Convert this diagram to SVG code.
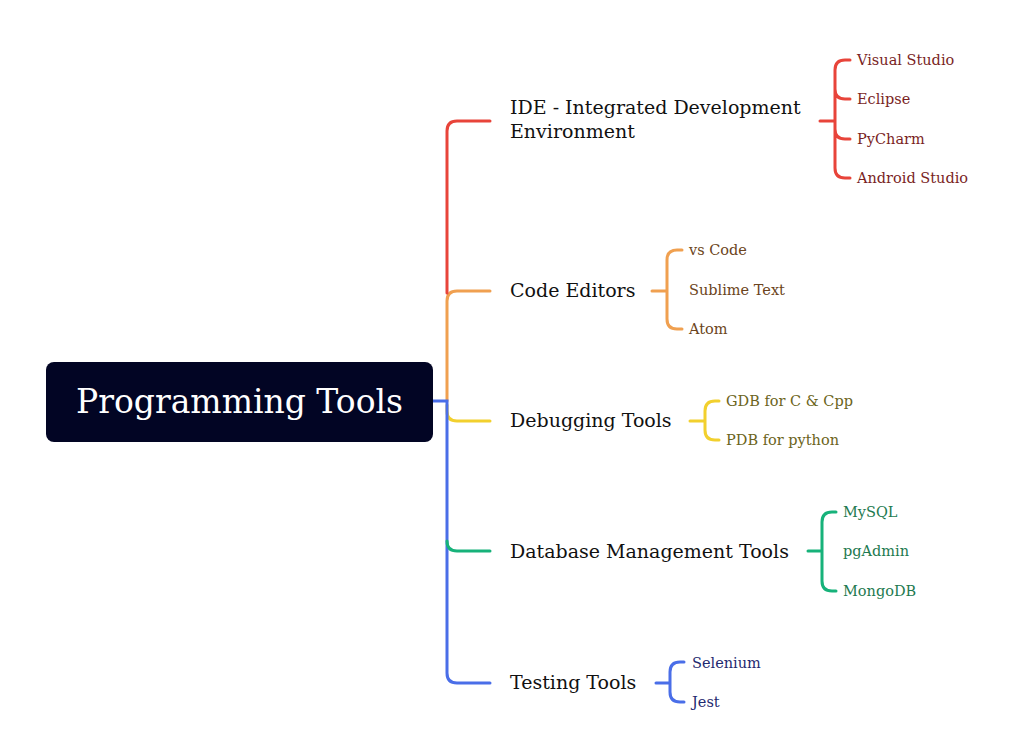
<svg xmlns="http://www.w3.org/2000/svg" width="1024" height="751" viewBox="0 0 1024 751">
<style>
.l{fill:none;stroke-width:3;stroke-linecap:round}
.m{font-family:"DejaVu Serif","Noto Serif",serif;font-size:19px;fill:#111}
.s{font-family:"DejaVu Serif","Noto Serif",serif;font-size:14.5px}
</style>
<rect width="1024" height="751" fill="#fff"/>
<g id="connectors">
<path class="l" stroke="#f0a050" d="M447,401 V301 Q447,291 457,291 H490"/>
<path class="l" stroke="#e8443a" d="M447,293 V131 Q447,121 457,121 H490"/>
<path class="l" stroke="#f2d02e" d="M447,405 V411 Q447,421 457,421 H490"/>
<path class="l" stroke="#4a6ee8" d="M433,401 H447 V673 Q447,683 457,683 H490"/>
<path class="l" stroke="#17b27a" d="M447,541 Q447,551 457,551 H490"/>
<path class="l" stroke="#e8443a" d="M820,121 H835 M850,60 H845 Q835,60 835,70 V168 Q835,178 845,178 H850 M835,89 Q835,99 845,99 H850 M835,129 Q835,139 845,139 H850"/>
<path class="l" stroke="#f0a050" d="M652,291 H667 M682,250 H677 Q667,250 667,260 V319 Q667,329 677,329 H682"/>
<path class="l" stroke="#f2d02e" d="M690,421 H705 M719,401 H715 Q705,401 705,411 V430 Q705,440 715,440 H719"/>
<path class="l" stroke="#17b27a" d="M808,551 H822 M836,512 H832 Q822,512 822,522 V581 Q822,591 832,591 H836"/>
<path class="l" stroke="#4a6ee8" d="M656,683 H670 M684,662 H680 Q670,662 670,672 V692 Q670,702 680,702 H684"/>
</g>
<g id="root"><rect x="46" y="362" width="387" height="80" rx="8" fill="#020524"/>
<text x="239.5" y="413" text-anchor="middle" font-family="'DejaVu Serif','Noto Serif',serif" font-size="33" fill="#fff">Programming Tools</text></g>
<g id="ide"><text class="m" x="510" y="114">IDE - Integrated Development</text><text class="m" x="510" y="138">Environment</text></g>
<g id="editors"><text class="m" x="510" y="297">Code Editors</text></g>
<g id="debug"><text class="m" x="510" y="427">Debugging Tools</text></g>
<g id="db"><text class="m" x="510" y="558">Database Management Tools</text></g>
<g id="testing"><text class="m" x="510" y="689">Testing Tools</text></g>
<g id="ide-leaves" fill="#7a1f1f"><text class="s" x="857" y="65">Visual Studio</text><text class="s" x="857" y="104">Eclipse</text><text class="s" x="857" y="144">PyCharm</text><text class="s" x="857" y="183">Android Studio</text></g>
<g id="editor-leaves" fill="#6b4420"><text class="s" x="689" y="255">vs Code</text><text class="s" x="689" y="295">Sublime Text</text><text class="s" x="689" y="334">Atom</text></g>
<g id="debug-leaves" fill="#6b6420"><text class="s" x="726" y="406">GDB for C &amp; Cpp</text><text class="s" x="726" y="445">PDB for python</text></g>
<g id="db-leaves" fill="#1d7a50"><text class="s" x="843" y="517">MySQL</text><text class="s" x="843" y="556">pgAdmin</text><text class="s" x="843" y="596">MongoDB</text></g>
<g id="test-leaves" fill="#1f2a70"><text class="s" x="692" y="668">Selenium</text><text class="s" x="692" y="707">Jest</text></g>
</svg>
